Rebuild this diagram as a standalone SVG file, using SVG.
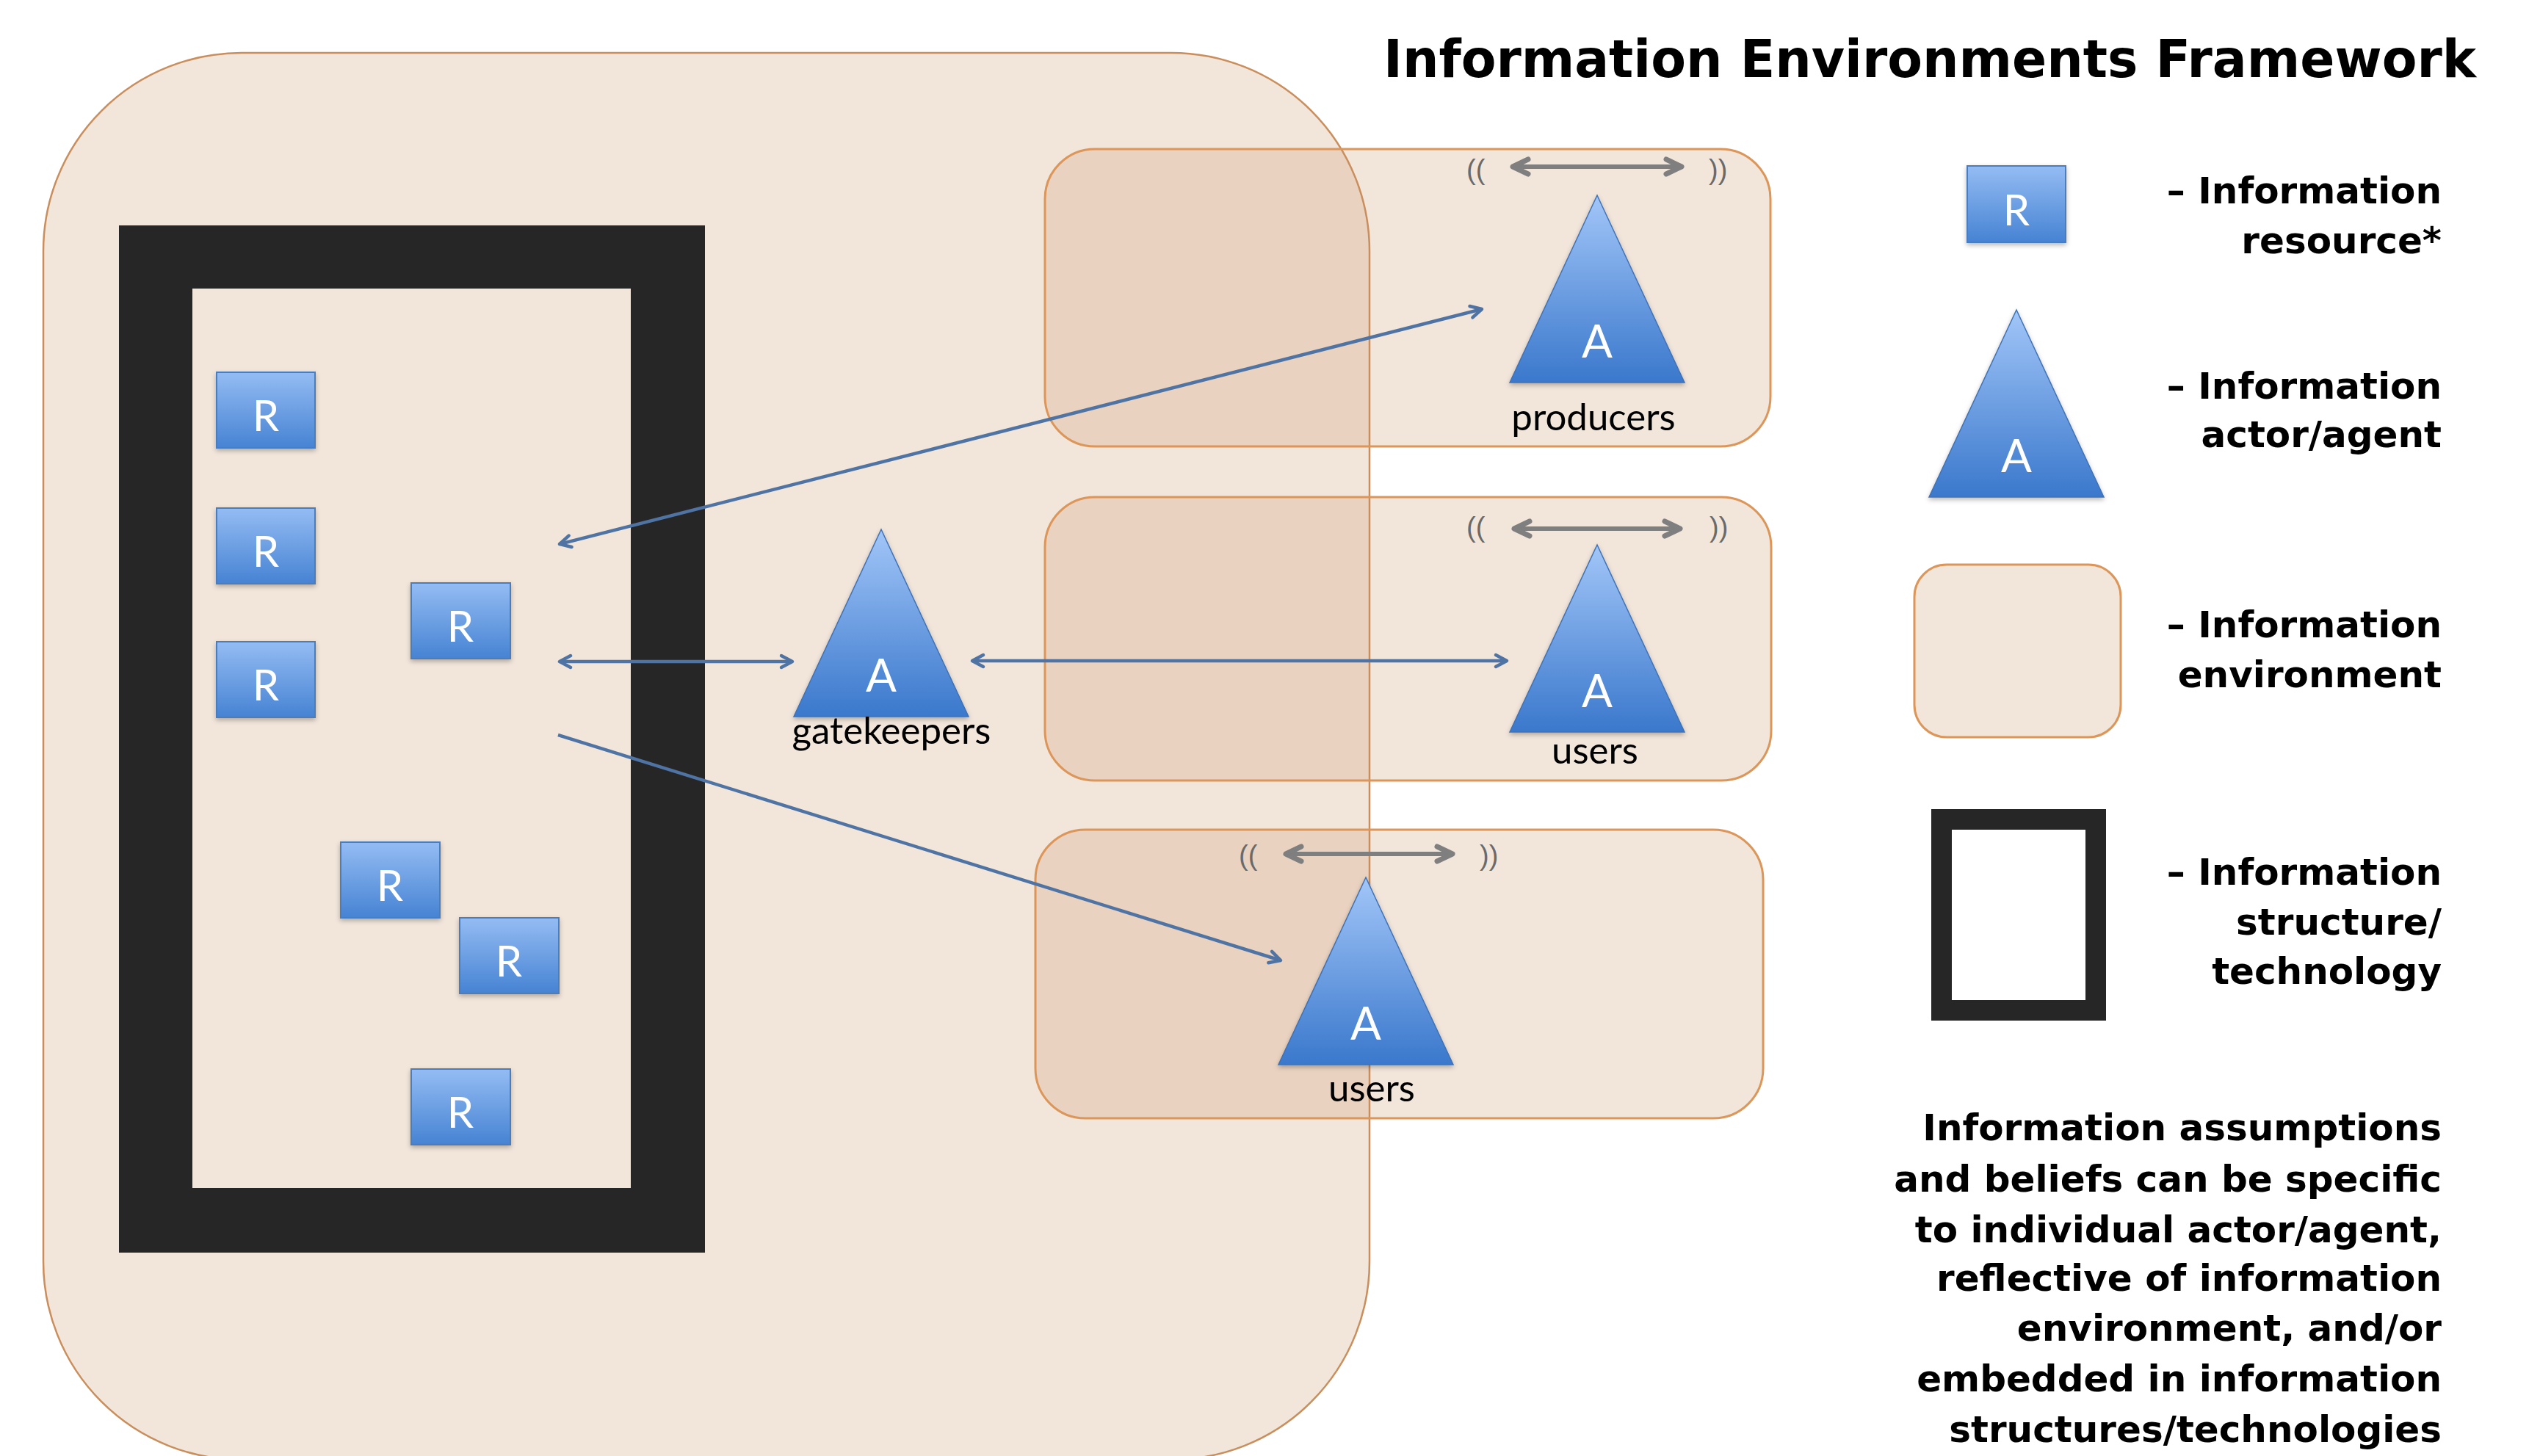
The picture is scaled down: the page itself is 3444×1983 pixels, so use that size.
<svg xmlns="http://www.w3.org/2000/svg" width="3444" height="1983" viewBox="0 0 3444 1983">
  <defs>
    <style>
      .env { fill: #f2e6db; }
      .env-overlap { fill: #e9d2c0; }
      .env-line { fill: none; stroke: #dc965a; stroke-width: 3; }
      .big-line { fill: none; stroke: #c98e5c; stroke-width: 2.5; }
      .res { fill: url(#gradR); stroke: #4a7dbd; stroke-width: 2; }
      .actor { fill: url(#gradA); stroke: #3f72b5; stroke-width: 1.5; }
      .letter { font-family: Lato, "Open Sans", sans-serif; fill: #ffffff; text-anchor: middle; }
      .label { font-family: Lato, "Open Sans", sans-serif; font-size: 51px; fill: #000000; text-anchor: middle; }
      .paren { font-family: "Liberation Sans", Arial, sans-serif; font-size: 38px; fill: #6a6a6a; }
      .legend { font-family: "DejaVu Sans", Verdana, sans-serif; font-weight: bold; font-size: 50px; fill: #000000; text-anchor: end; }
      .title { font-family: "DejaVu Sans", Verdana, sans-serif; font-weight: bold; font-size: 72px; fill: #000000; }
      .link { fill: none; stroke: #4f73a3; stroke-width: 4.5; }
      .wave { fill: none; stroke: #7f7f7f; stroke-width: 6; }
    </style>
    <linearGradient id="gradR" x1="0" y1="0" x2="0" y2="1">
      <stop offset="0" stop-color="#94bcf3"/>
      <stop offset="1" stop-color="#4683d3"/>
    </linearGradient>
    <linearGradient id="gradA" x1="0" y1="0" x2="0" y2="1">
      <stop offset="0" stop-color="#a2c6f8"/>
      <stop offset="1" stop-color="#3a78cc"/>
    </linearGradient>
    <clipPath id="bigEnvClip">
      <rect x="59" y="72" width="1806" height="1916" rx="270" ry="270"/>
    </clipPath>
    <filter id="soft" x="-20%" y="-20%" width="140%" height="140%">
      <feDropShadow dx="0" dy="3" stdDeviation="3" flood-color="#000000" flood-opacity="0.28"/>
    </filter>
    <marker id="blueHead" markerUnits="userSpaceOnUse" viewBox="-22 -12 26 24" refX="0" refY="0" markerWidth="26" markerHeight="24" orient="auto-start-reverse">
      <path d="M-15,-8 L0,0 L-15,8" fill="none" stroke="#4f73a3" stroke-width="4.5" stroke-linecap="round" stroke-linejoin="round"/>
    </marker>
    <marker id="grayHead" markerUnits="userSpaceOnUse" viewBox="-30 -16 36 32" refX="0" refY="0" markerWidth="36" markerHeight="32" orient="auto-start-reverse">
      <path d="M-21,-10 L0,0 L-21,10" fill="none" stroke="#7f7f7f" stroke-width="7" stroke-linecap="round" stroke-linejoin="round"/>
    </marker>
    <path id="tri" d="M0,0 L119,255 L-119,255 Z"/>
  </defs>

  <rect width="3444" height="1983" fill="#ffffff"/>

  <!-- large information environment on the left -->
  <g id="env-main">
    <rect class="env" x="59" y="72" width="1806" height="1916" rx="270" ry="270"/>
  </g>

  <!-- information structure / technology frame -->
  <g id="structure">
    <path d="M162,307 H960 V1706 H162 Z M262,393 V1618 H859 V393 Z" fill="#262626" fill-rule="evenodd"/>
  </g>

  <!-- smaller information environments -->
  <g id="env-producers">
    <rect class="env" x="1423" y="203" width="988" height="405" rx="68"/>
    <rect class="env-overlap" x="1423" y="203" width="988" height="405" rx="68" clip-path="url(#bigEnvClip)"/>
  </g>
  <g id="env-users-mid">
    <rect class="env" x="1423" y="677" width="989" height="386" rx="68"/>
    <rect class="env-overlap" x="1423" y="677" width="989" height="386" rx="68" clip-path="url(#bigEnvClip)"/>
  </g>
  <g id="env-users-low">
    <rect class="env" x="1410" y="1130" width="991" height="393" rx="68"/>
    <rect class="env-overlap" x="1410" y="1130" width="991" height="393" rx="68" clip-path="url(#bigEnvClip)"/>
  </g>

  <!-- environment outlines drawn over the fills -->
  <g id="env-outlines">
    <rect class="big-line" x="59" y="72" width="1806" height="1916" rx="270" ry="270"/>
    <rect class="env-line" x="1423" y="203" width="988" height="405" rx="68"/>
    <rect class="env-line" x="1423" y="677" width="989" height="386" rx="68"/>
    <rect class="env-line" x="1410" y="1130" width="991" height="393" rx="68"/>
  </g>

  <!-- information resources -->
  <g id="res-1" filter="url(#soft)"><rect class="res" x="295" y="507" width="134" height="103"/><text class="letter" x="362" y="587" font-size="58">R</text></g>
  <g id="res-2" filter="url(#soft)"><rect class="res" x="295" y="692" width="134" height="103"/><text class="letter" x="362" y="772" font-size="58">R</text></g>
  <g id="res-3" filter="url(#soft)"><rect class="res" x="295" y="874" width="134" height="103"/><text class="letter" x="362" y="954" font-size="58">R</text></g>
  <g id="res-4" filter="url(#soft)"><rect class="res" x="560" y="794" width="135" height="103"/><text class="letter" x="627" y="874" font-size="58">R</text></g>
  <g id="res-5" filter="url(#soft)"><rect class="res" x="464" y="1147" width="135" height="103"/><text class="letter" x="531" y="1227" font-size="58">R</text></g>
  <g id="res-6" filter="url(#soft)"><rect class="res" x="626" y="1250" width="135" height="103"/><text class="letter" x="693" y="1330" font-size="58">R</text></g>
  <g id="res-7" filter="url(#soft)"><rect class="res" x="560" y="1456" width="135" height="103"/><text class="letter" x="627" y="1536" font-size="58">R</text></g>

  <!-- information actors / agents -->
  <g id="actor-producers">
    <use href="#tri" class="actor" x="2175" y="266" filter="url(#soft)"/>
    <text class="letter" x="2175" y="487" font-size="62">A</text>
    <text class="label" x="2170" y="586">producers</text>
  </g>
  <g id="actor-gatekeepers">
    <use href="#tri" class="actor" x="1200" y="721" filter="url(#soft)"/>
    <text class="letter" x="1200" y="942" font-size="62">A</text>
    <text class="label" x="1214" y="1013">gatekeepers</text>
  </g>
  <g id="actor-users-mid">
    <use href="#tri" class="actor" x="2175" y="742" filter="url(#soft)"/>
    <text class="letter" x="2175" y="963" font-size="62">A</text>
    <text class="label" x="2172" y="1040">users</text>
  </g>
  <g id="actor-users-low">
    <use href="#tri" class="actor" x="1860" y="1195" filter="url(#soft)"/>
    <text class="letter" x="1860" y="1416" font-size="62">A</text>
    <text class="label" x="1868" y="1500">users</text>
  </g>

  <!-- exchange within each environment -->
  <g id="waves">
    <text class="paren" x="1997" y="244">((</text>
    <line class="wave" x1="2060" y1="227" x2="2290" y2="227" marker-start="url(#grayHead)" marker-end="url(#grayHead)"/>
    <text class="paren" x="2327" y="244">))</text>

    <text class="paren" x="1997" y="731">((</text>
    <line class="wave" x1="2062" y1="720" x2="2288" y2="720" marker-start="url(#grayHead)" marker-end="url(#grayHead)"/>
    <text class="paren" x="2328" y="731">))</text>

    <text class="paren" x="1687" y="1178">((</text>
    <line class="wave" x1="1751" y1="1163" x2="1978" y2="1163" marker-start="url(#grayHead)" marker-end="url(#grayHead)"/>
    <text class="paren" x="2015" y="1178">))</text>
  </g>

  <!-- connectors between resources and actors -->
  <g id="connectors">
    <line class="link" x1="762" y1="741" x2="2018" y2="421" marker-start="url(#blueHead)" marker-end="url(#blueHead)"/>
    <line class="link" x1="762" y1="901" x2="1079" y2="901" marker-start="url(#blueHead)" marker-end="url(#blueHead)"/>
    <line class="link" x1="1324" y1="900" x2="2052" y2="900" marker-start="url(#blueHead)" marker-end="url(#blueHead)"/>
    <line class="link" x1="760" y1="1001" x2="1744" y2="1308" marker-end="url(#blueHead)"/>
  </g>

  <!-- title -->
  <text class="title" x="1884" y="105" textLength="1488" lengthAdjust="spacingAndGlyphs">Information Environments Framework</text>

  <!-- legend -->
  <g id="legend-resource">
    <rect class="res" x="2679" y="226" width="134" height="104" filter="url(#soft)"/>
    <text class="letter" x="2746" y="307" font-size="58">R</text>
    <text class="legend" x="3325" y="277">– Information</text>
    <text class="legend" x="3325" y="345">resource*</text>
  </g>
  <g id="legend-actor">
    <use href="#tri" class="actor" x="2746" y="422" filter="url(#soft)"/>
    <text class="letter" x="2746" y="643" font-size="62">A</text>
    <text class="legend" x="3325" y="543">– Information</text>
    <text class="legend" x="3325" y="609">actor/agent</text>
  </g>
  <g id="legend-environment">
    <rect class="env" x="2607" y="769" width="281" height="235" rx="44"/>
    <rect class="env-line" x="2607" y="769" width="281" height="235" rx="44"/>
    <text class="legend" x="3325" y="868">– Information</text>
    <text class="legend" x="3325" y="936">environment</text>
  </g>
  <g id="legend-structure">
    <rect x="2644" y="1116" width="210" height="260" fill="#ffffff" stroke="#262626" stroke-width="28"/>
    <text class="legend" x="3325" y="1205">– Information</text>
    <text class="legend" x="3325" y="1273">structure/</text>
    <text class="legend" x="3325" y="1340">technology</text>
  </g>
  <g id="legend-note">
    <text class="legend" x="3325" y="1553">Information assumptions</text>
    <text class="legend" x="3325" y="1623">and beliefs can be specific</text>
    <text class="legend" x="3325" y="1692">to individual actor/agent,</text>
    <text class="legend" x="3325" y="1758">reflective of information</text>
    <text class="legend" x="3325" y="1826">environment, and/or</text>
    <text class="legend" x="3325" y="1895">embedded in information</text>
    <text class="legend" x="3325" y="1964">structures/technologies</text>
  </g>
</svg>
